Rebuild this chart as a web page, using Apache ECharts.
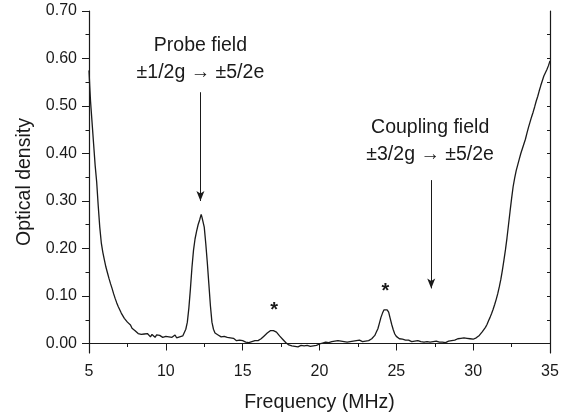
<!DOCTYPE html>
<html lang="en">
<head>
<meta charset="utf-8">
<title>Optical density vs frequency</title>
<script src="https://cdn.jsdelivr.net/npm/echarts@6/dist/echarts.min.js"></script>
<style>
  body { margin: 0; background: #fff; }
  #main { width: 574px; height: 420px; }
</style>
</head>
<body>
<div id="main"></div>
<script>
// frequency (MHz) and optical density
var freq = [
  5.00, 5.05, 5.10, 5.20, 5.30, 5.40, 5.50, 5.60, 5.70, 5.80, 5.90,
  6.0, 6.1, 6.2, 6.3, 6.4, 6.5, 6.6, 6.7, 6.8, 6.9,
  7.0, 7.1, 7.2, 7.3, 7.4, 7.5, 7.6, 7.7, 7.8, 7.9,
  8.0, 8.1, 8.2, 8.3, 8.4, 8.5, 8.6, 8.7, 8.8, 8.9,
  9.0, 9.1, 9.2, 9.3, 9.4, 9.5, 9.6, 9.7, 9.8, 9.9,
  10.0, 10.1, 10.2, 10.3, 10.4, 10.5, 10.6, 10.7, 10.8, 10.9,
  11.0, 11.1, 11.2, 11.3, 11.4, 11.5, 11.6, 11.7, 11.8, 11.9,
  12.0, 12.1, 12.2, 12.3, 12.35, 12.4, 12.5, 12.6, 12.7, 12.8, 12.9,
  13.0, 13.1, 13.2, 13.3, 13.4, 13.5, 13.6, 13.7, 13.8, 13.9,
  14.0, 14.1, 14.2, 14.3, 14.4, 14.5, 14.6, 14.7, 14.8, 14.9,
  15.0, 15.1, 15.2, 15.3, 15.4, 15.5, 15.6, 15.7, 15.8, 15.9,
  16.0, 16.1, 16.2, 16.3, 16.4, 16.5, 16.6, 16.7, 16.8, 16.9,
  17.0, 17.1, 17.2, 17.3, 17.4, 17.5, 17.6, 17.7, 17.8, 17.9,
  18.0, 18.1, 18.2, 18.3, 18.4, 18.5, 18.6, 18.7, 18.8, 18.9,
  19.0, 19.1, 19.2, 19.3, 19.4, 19.5, 19.6, 19.7, 19.8, 19.9,
  20.0, 20.1, 20.2, 20.3, 20.4, 20.5, 20.6, 20.7, 20.8, 20.9,
  21.0, 21.1, 21.2, 21.3, 21.4, 21.5, 21.6, 21.7, 21.8, 21.9,
  22.0, 22.1, 22.2, 22.3, 22.4, 22.5, 22.6, 22.7, 22.8, 22.9,
  23.0, 23.1, 23.2, 23.3, 23.4, 23.5, 23.6, 23.7, 23.8, 23.9,
  24.0, 24.1, 24.2, 24.3, 24.4, 24.5, 24.6, 24.7, 24.8, 24.9,
  25.0, 25.1, 25.2, 25.3, 25.4, 25.5, 25.6, 25.7, 25.8, 25.9,
  26.0, 26.1, 26.2, 26.3, 26.4, 26.5, 26.6, 26.7, 26.8, 26.9,
  27.0, 27.1, 27.2, 27.3, 27.4, 27.5, 27.6, 27.7, 27.8, 27.9,
  28.0, 28.1, 28.2, 28.3, 28.4, 28.5, 28.6, 28.7, 28.8, 28.9,
  29.0, 29.1, 29.2, 29.3, 29.4, 29.5, 29.6, 29.7, 29.8, 29.9,
  30.0, 30.1, 30.2, 30.3, 30.4, 30.5, 30.6, 30.7, 30.8, 30.9,
  31.0, 31.1, 31.2, 31.3, 31.4, 31.5, 31.6, 31.7, 31.8, 31.9,
  32.0, 32.1, 32.2, 32.3, 32.4, 32.5, 32.6, 32.7, 32.8, 32.9,
  33.0, 33.1, 33.2, 33.3, 33.4, 33.5, 33.6, 33.7, 33.8, 33.9,
  34.0, 34.1, 34.2, 34.3, 34.4, 34.5, 34.6, 34.7, 34.8, 34.9,
  35.0
];
var density = [
  0.575, 0.540, 0.510, 0.465, 0.420, 0.375, 0.340, 0.290, 0.245, 0.212, 0.192,
  0.176, 0.161, 0.149, 0.137, 0.126, 0.116, 0.105, 0.095, 0.086, 0.078,
  0.071, 0.064, 0.060, 0.053, 0.051, 0.045, 0.041, 0.039, 0.032, 0.031,
  0.027, 0.026, 0.021, 0.025, 0.019, 0.022, 0.020, 0.016, 0.021, 0.018,
  0.014, 0.019, 0.017, 0.013, 0.018, 0.015, 0.017, 0.020, 0.013, 0.016,
  0.015, 0.019, 0.014, 0.016, 0.013, 0.017, 0.018, 0.012, 0.016, 0.014,
  0.011, 0.016, 0.020, 0.030, 0.045, 0.075, 0.115, 0.160, 0.196, 0.220,
  0.236, 0.250, 0.260, 0.272, 0.266, 0.264, 0.245, 0.210, 0.170, 0.125, 0.080,
  0.045, 0.030, 0.022, 0.020, 0.018, 0.019, 0.014, 0.016, 0.015, 0.012,
  0.013, 0.010, 0.012, 0.008, 0.011, 0.009, 0.006, 0.009, 0.007, 0.004,
  0.006, 0.005, 0.003, 0.006, 0.002, 0.005, 0.004, 0.002, 0.006, 0.004,
  0.006, 0.008, 0.010, 0.013, 0.016, 0.019, 0.022, 0.025, 0.027, 0.029,
  0.027, 0.028, 0.024, 0.021, 0.016, 0.013, 0.009, 0.005, 0.002, 0.000,
  -0.003, -0.002, -0.005, -0.004, -0.006, -0.003, -0.007, -0.005, -0.004, -0.006,
  -0.005, -0.007, -0.004, -0.005, -0.006, -0.003, -0.005, -0.002, -0.004, -0.001,
  -0.001, 0.002, 0.001, 0.004, 0.003, 0.005, 0.002, 0.006, 0.004, 0.003,
  0.005, 0.004, 0.006, 0.003, 0.005, 0.007, 0.004, 0.005, 0.003, 0.006,
  0.004, 0.006, 0.005, 0.003, 0.006, 0.004, 0.007, 0.005, 0.004, 0.006,
  0.005, 0.007, 0.006, 0.009, 0.010, 0.013, 0.017, 0.024, 0.031, 0.043,
  0.055, 0.064, 0.071, 0.073, 0.071, 0.066, 0.053, 0.040, 0.029, 0.020,
  0.015, 0.012, 0.010, 0.008, 0.009, 0.006, 0.007, 0.005, 0.007, 0.006,
  0.004, 0.006, 0.005, 0.003, 0.006, 0.005, 0.004, 0.006, 0.003, 0.005,
  0.004, 0.005, 0.003, 0.005, 0.004, 0.002, 0.005, 0.004, 0.003, 0.005,
  0.003, 0.004, 0.002, 0.004, 0.005, 0.004, 0.006, 0.008, 0.007, 0.009,
  0.010, 0.009, 0.011, 0.010, 0.012, 0.010, 0.011, 0.013, 0.010, 0.011,
  0.009, 0.011, 0.012, 0.014, 0.017, 0.021, 0.025, 0.029, 0.034, 0.040,
  0.048, 0.055, 0.063, 0.072, 0.082, 0.093, 0.105, 0.119, 0.135, 0.154,
  0.175, 0.197, 0.222, 0.250, 0.278, 0.305, 0.330, 0.348, 0.364, 0.376,
  0.388, 0.400, 0.410, 0.420, 0.430, 0.443, 0.455, 0.466, 0.477, 0.487,
  0.498, 0.510, 0.520, 0.532, 0.543, 0.553, 0.563, 0.570, 0.577, 0.585,
  0.595
];
var yMajor = [0, 0.1, 0.2, 0.3, 0.4, 0.5, 0.6, 0.7];
var yMinor = [0.05, 0.15, 0.25, 0.35, 0.45, 0.55, 0.65];
var yAll = [0, 0.05, 0.1, 0.15, 0.2, 0.25, 0.3, 0.35, 0.4, 0.45, 0.5, 0.55, 0.6, 0.65];

// annotations: [freq, density, text]
var probeNote = [12.25, 0.598, 'Probe field\n\u00b11/2g \u2192 \u00b15/2e'];
var couplingNote = [27.2, 0.427, 'Coupling field\n\u00b13/2g \u2192 \u00b15/2e'];
var probeArrow = [12.25, 0.529, 0.300];
var couplingArrow = [27.27, 0.344, 0.116];
var stars = [[17.05, 0.070], [24.28, 0.110]];

var ink = '#1a1a1a';
var font = 'Liberation Sans, Arial, sans-serif';

var points = [];
for (var i = 0; i < freq.length; i++) points.push([freq[i], density[i]]);

var myChart = echarts.init(document.getElementById('main'), null, {renderer: 'canvas'});

var option = {
  animation: false,
  backgroundColor: '#fff',
  grid: {left: 89, right: 24, top: 11, bottom: 67},
  xAxis: [
    {
      type: 'value', min: 5, max: 35, interval: 5,
      name: 'Frequency (MHz)', nameLocation: 'middle', nameGap: 40,
      nameTextStyle: {fontFamily: font, fontSize: 19.5, color: ink},
      axisLine: {lineStyle: {color: ink, width: 1.2}},
      axisTick: {length: 7, lineStyle: {color: ink}},
      minorTick: {show: true, splitNumber: 2, length: 3.5, lineStyle: {color: ink}},
      axisLabel: {fontFamily: font, fontSize: 16, color: ink, margin: 11},
      splitLine: {show: false}
    },
    {
      type: 'value', min: 5, max: 35, interval: 2.5, position: 'top',
      axisLine: {show: true, lineStyle: {color: ink, width: 1.2}},
      axisTick: {inside: true, length: 3, lineStyle: {color: ink}},
      axisLabel: {show: false},
      splitLine: {show: false}
    }
  ],
  yAxis: [
    {
      type: 'value', min: -0.02, max: 0.7,
      name: 'Optical density', nameLocation: 'middle', nameGap: 53,
      nameTextStyle: {fontFamily: font, fontSize: 19.5, color: ink},
      axisLine: {show: true, lineStyle: {color: ink, width: 1.2}},
      axisTick: {show: true, length: 7, customValues: yMajor, lineStyle: {color: ink}},
      axisLabel: {
        fontFamily: font, fontSize: 16, color: ink, margin: 12,
        customValues: yMajor,
        formatter: function (v) { return v.toFixed(2); }
      },
      splitLine: {show: false}
    },
    {
      type: 'value', min: -0.02, max: 0.7, position: 'left',
      axisLine: {show: false},
      axisTick: {show: true, length: 3.5, customValues: yMinor, lineStyle: {color: ink}},
      axisLabel: {show: false},
      splitLine: {show: false}
    },
    {
      type: 'value', min: -0.02, max: 0.7, position: 'right',
      axisLine: {show: true, lineStyle: {color: ink, width: 1.2}},
      axisTick: {show: true, inside: true, length: 3, customValues: yAll, lineStyle: {color: ink}},
      axisLabel: {show: false},
      splitLine: {show: false}
    }
  ],
  series: [
    {
      type: 'line',
      data: points,
      showSymbol: false,
      symbol: 'none',
      clip: false,
      lineStyle: {color: ink, width: 1.3},
      markLine: {
        silent: true,
        symbol: ['none', 'arrow'],
        symbolSize: [6, 10],
        label: {show: false},
        lineStyle: {color: ink, width: 1, type: 'solid'},
        data: [
          [{coord: [probeArrow[0], probeArrow[1]]}, {coord: [probeArrow[0], probeArrow[2]]}],
          [{coord: [couplingArrow[0], couplingArrow[1]]}, {coord: [couplingArrow[0], couplingArrow[2]]}]
        ]
      },
      markPoint: {
        silent: true,
        symbol: 'rect',
        symbolSize: 0,
        data: [
          {coord: [probeNote[0], probeNote[1]], label: {formatter: probeNote[2]}},
          {coord: [couplingNote[0], couplingNote[1]], label: {formatter: couplingNote[2]}},
          {coord: stars[0], label: {formatter: '*', fontSize: 20, fontWeight: 'bold', lineHeight: 20}},
          {coord: stars[1], label: {formatter: '*', fontSize: 20, fontWeight: 'bold', lineHeight: 20}}
        ],
        label: {
          show: true, position: 'inside', color: ink,
          fontFamily: font, fontSize: 19.5, lineHeight: 27, align: 'center'
        }
      }
    }
  ]
};

myChart.setOption(option);
</script>
</body>
</html>
